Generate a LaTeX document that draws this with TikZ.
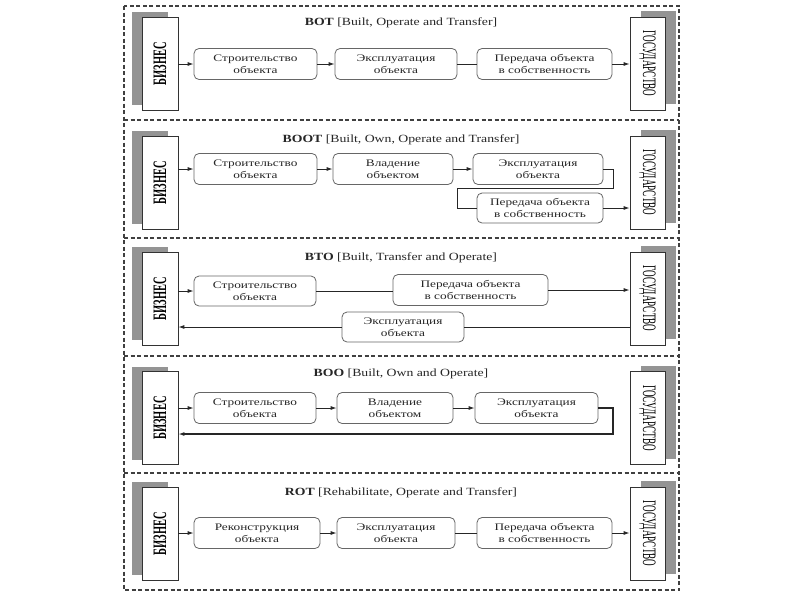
\documentclass[tikz,border=0pt]{standalone}
\usepackage{fontspec}
\setmainfont{Liberation Serif}
\newfontfamily\boxfont[FakeStretch=1.33]{Liberation Serif}
\newfontfamily\titlefont[FakeStretch=1.25]{Liberation Serif}
\newfontfamily\vertfont[FakeStretch=0.55]{Liberation Serif}
\newfontfamily\govfont[FakeStretch=0.48]{Liberation Serif}
\usetikzlibrary{shadows,arrows.meta}
\tikzset{
  proc/.style={draw=black!60, line width=0.8pt, rounded corners=5pt, fill=white,
    align=center, font=\boxfont\fontsize{10}{12}\selectfont, text=black!85, inner sep=0pt,
    minimum height=31pt},
  actor/.style={draw=black!80, line width=0.8pt, fill=white, inner sep=0pt,
    minimum width=93pt},
  biz/.style={actor, rotate=90, minimum height=36pt,
    font=\vertfont\bfseries\fontsize{19}{19}\selectfont,
    drop shadow={shadow xshift=-10pt, shadow yshift=5pt, opacity=1, fill=black!42}},
  gov/.style={actor, rotate=-90, minimum height=35pt,
    font=\govfont\fontsize{19}{19}\selectfont,
    drop shadow={shadow xshift=11pt, shadow yshift=6pt, opacity=1, fill=black!42}},
  ttl/.style={font=\titlefont\fontsize{11}{13}\selectfont, text=black!85, inner sep=0pt},
  ln/.style={draw=black!85, line width=0.9pt},
  arr/.style={ln, -{Latex[length=6pt,width=4pt]}},
  frame/.style={draw=black!75, line width=1.1pt, dash pattern=on 4pt off 2.5pt}
}
\begin{document}
\begin{tikzpicture}[x=1pt,y=-1pt]
\useasboundingbox (0,0) rectangle (800,600);
\fill[white] (0,0) rectangle (800,600);
% frame and separators
\draw[frame] (124,6) rectangle (679,590);
\draw[frame] (124,120) -- (679,120);
\draw[frame] (124,238) -- (679,238);
\draw[frame] (124,356) -- (679,356);
\draw[frame] (124,473) -- (679,473);

% ---------- Panel 1: BOT
\node[ttl] (t1) at (401,23) {\textbf{BOT} [Built, Operate and Transfer]};
\node[biz] (A1) at (160,63.5) {БИЗНЕС};
\node[gov] (G1) at (647.5,63.5) {ГОСУДАРСТВО};
\node[proc, minimum width=123pt] (b11) at (255.5,64) {Строительство\\объекта};
\node[proc, minimum width=122pt] (b12) at (396,64) {Эксплуатация\\объекта};
\node[proc, minimum width=135pt] (b13) at (544.5,64) {Передача объекта\\в собственность};
\draw[arr] (A1.south |- b11.west) -- (b11.west);
\draw[arr] (b11.east) -- (b12.west);
\draw[ln] (b12.east) -- (b13.west);
\draw[arr] (b13.east) -- (G1.south |- b13.east);

% ---------- Panel 2: BOOT
\node[ttl] (t2) at (401,140) {\textbf{BOOT} [Built, Own, Operate and Transfer]};
\node[biz] (A2) at (160,182.5) {БИЗНЕС};
\node[gov] (G2) at (647.5,182.5) {ГОСУДАРСТВО};
\node[proc, minimum width=123pt] (b21) at (255.5,169) {Строительство\\объекта};
\node[proc, minimum width=120pt] (b22) at (393,169) {Владение\\объектом};
\node[proc, minimum width=130pt] (b23) at (538,169) {Эксплуатация\\объекта};
\node[proc, minimum width=126pt, minimum height=30pt] (b24) at (540,208) {Передача объекта\\в собственность};
\draw[arr] (A2.south |- b21.west) -- (b21.west);
\draw[arr] (b21.east) -- (b22.west);
\draw[arr] (b22.east) -- (b23.west);
\draw[ln] (b23.east) -- ++(10,0) -- ++(0,19) -| ([xshift=-19pt]b24.west) -- (b24.west);
\draw[arr] (b24.east) -- (G2.south |- b24.east);

% ---------- Panel 3: BTO
\node[ttl] (t3) at (401,258) {\textbf{BTO} [Built, Transfer and Operate]};
\node[biz] (A3) at (160,298.5) {БИЗНЕС};
\node[gov] (G3) at (647.5,298.5) {ГОСУДАРСТВО};
\node[proc, minimum width=122pt, minimum height=30pt] (b31) at (255,291) {Строительство\\объекта};
\node[proc, minimum width=155pt] (b32) at (470.5,290) {Передача объекта\\в собственность};
\node[proc, minimum width=122pt, minimum height=30pt] (b33) at (403,327) {Эксплуатация\\объекта};
\draw[arr] (A3.south |- b31.west) -- (b31.west);
\draw[ln] (b31.east) -- (b32.west |- b31.east);
\draw[arr] (b32.east) -- (G3.south |- b32.east);
\draw[ln] (G3.south |- b33.east) -- (b33.east);
\draw[arr] (b33.west) -- (A3.south |- b33.west);

% ---------- Panel 4: BOO
\node[ttl] (t4) at (401,374) {\textbf{BOO} [Built, Own and Operate]};
\node[biz] (A4) at (160,418) {БИЗНЕС};
\node[gov] (G4) at (647.5,418) {ГОСУДАРСТВО};
\node[proc, minimum width=122pt] (b41) at (255,408) {Строительство\\объекта};
\node[proc, minimum width=116pt] (b42) at (395,408) {Владение\\объектом};
\node[proc, minimum width=123pt] (b43) at (536.5,408) {Эксплуатация\\объекта};
\coordinate (r4) at (613,434);
\draw[arr] (A4.south |- b41.west) -- (b41.west);
\draw[arr] (b41.east) -- (b42.west);
\draw[arr] (b42.east) -- (b43.west);
\draw[arr, line width=1.3pt] (b43.east) -| (r4) -- (A4.south |- r4);

% ---------- Panel 5: ROT
\node[ttl] (t5) at (401,493) {\textbf{ROT} [Rehabilitate, Operate and Transfer]};
\node[biz] (A5) at (160,533.5) {БИЗНЕС};
\node[gov] (G5) at (647.5,533.5) {ГОСУДАРСТВО};
\node[proc, minimum width=126pt] (b51) at (257,533) {Реконструкция\\объекта};
\node[proc, minimum width=118pt] (b52) at (396,533) {Эксплуатация\\объекта};
\node[proc, minimum width=135pt] (b53) at (544.5,533) {Передача объекта\\в собственность};
\draw[arr] (A5.south |- b51.west) -- (b51.west);
\draw[arr] (b51.east) -- (b52.west);
\draw[ln] (b52.east) -- (b53.west);
\draw[arr] (b53.east) -- (G5.south |- b53.east);
\end{tikzpicture}
\end{document}
